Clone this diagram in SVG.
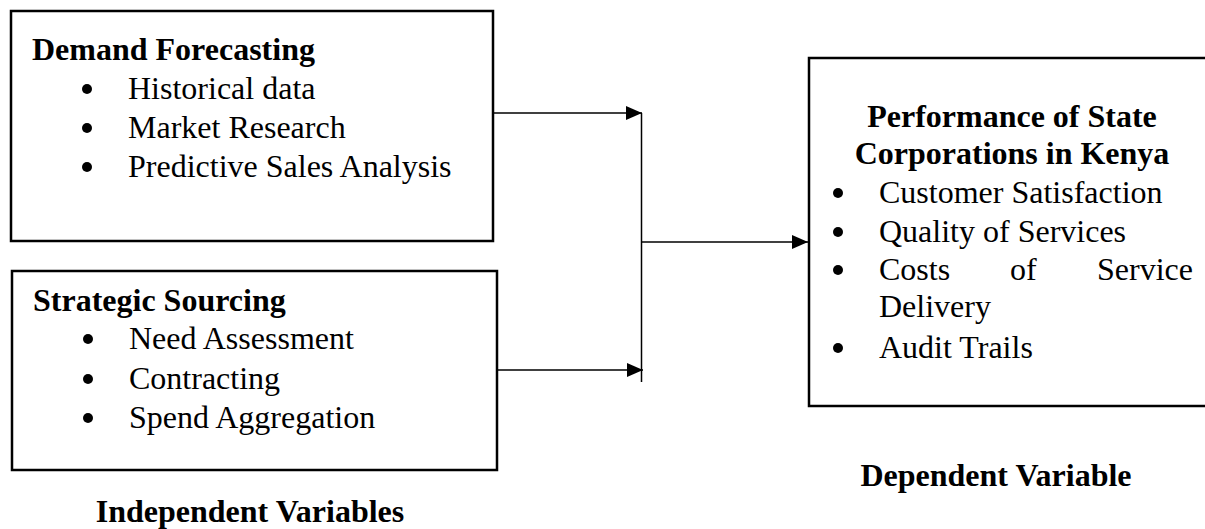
<svg xmlns="http://www.w3.org/2000/svg" width="1205" height="529" viewBox="0 0 1205 529">
<defs>
<style>
text{font-family:"Liberation Serif","Times New Roman",serif;font-size:32px;fill:#000}
.b{font-weight:bold}
.box{fill:#fff;stroke:#000;stroke-width:2.5}
.ln{stroke:#000;stroke-width:1.5;fill:none}
</style>
<marker id="ah" markerWidth="16" markerHeight="14" refX="16" refY="7" orient="auto" markerUnits="userSpaceOnUse">
<path d="M0,0 L16,7 L0,14 Z" fill="#000"/>
</marker>
</defs>
<rect width="1205" height="529" fill="#fff"/>
<g id="connectors">
<line class="ln" x1="494" y1="113" x2="642" y2="113" marker-end="url(#ah)"/>
<line class="ln" x1="498" y1="370" x2="643" y2="370" marker-end="url(#ah)"/>
<line class="ln" x1="641.5" y1="113" x2="641.5" y2="382"/>
<line class="ln" x1="641.5" y1="242" x2="808" y2="242" marker-end="url(#ah)"/>
</g>
<g id="demand">
<rect class="box" x="11" y="11" width="482" height="230"/>
<text class="b" x="32" y="60">Demand Forecasting</text>
<circle cx="87" cy="89" r="5"/><text x="128" y="99">Historical data</text>
<circle cx="87" cy="128" r="5"/><text x="128" y="138">Market Research</text>
<circle cx="87" cy="167" r="5"/><text x="128" y="177">Predictive Sales Analysis</text>
</g>
<g id="sourcing">
<rect class="box" x="12" y="271" width="485" height="199"/>
<text class="b" x="33" y="311">Strategic Sourcing</text>
<circle cx="88" cy="339" r="5"/><text x="129" y="349">Need Assessment</text>
<circle cx="88" cy="379" r="5"/><text x="129" y="389">Contracting</text>
<circle cx="88" cy="418" r="5"/><text x="129" y="428">Spend Aggregation</text>
</g>
<g id="performance">
<rect class="box" x="809" y="58" width="410" height="348"/>
<text class="b" x="1012" y="127" text-anchor="middle">Performance of State</text>
<text class="b" x="1012" y="164" text-anchor="middle">Corporations in Kenya</text>
<circle cx="838" cy="193" r="5"/><text x="879" y="203">Customer Satisfaction</text>
<circle cx="838" cy="232" r="5"/><text x="879" y="242">Quality of Services</text>
<circle cx="838" cy="270" r="5"/><text x="879" y="280">Costs</text><text x="1010" y="280">of</text><text x="1097" y="280">Service</text>
<text x="879" y="317">Delivery</text>
<circle cx="838" cy="348" r="5"/><text x="879" y="358">Audit Trails</text>
</g>
<g id="labels">
<text class="b" x="250" y="522" text-anchor="middle">Independent Variables</text>
<text class="b" x="996" y="486" text-anchor="middle">Dependent Variable</text>
</g>
</svg>
